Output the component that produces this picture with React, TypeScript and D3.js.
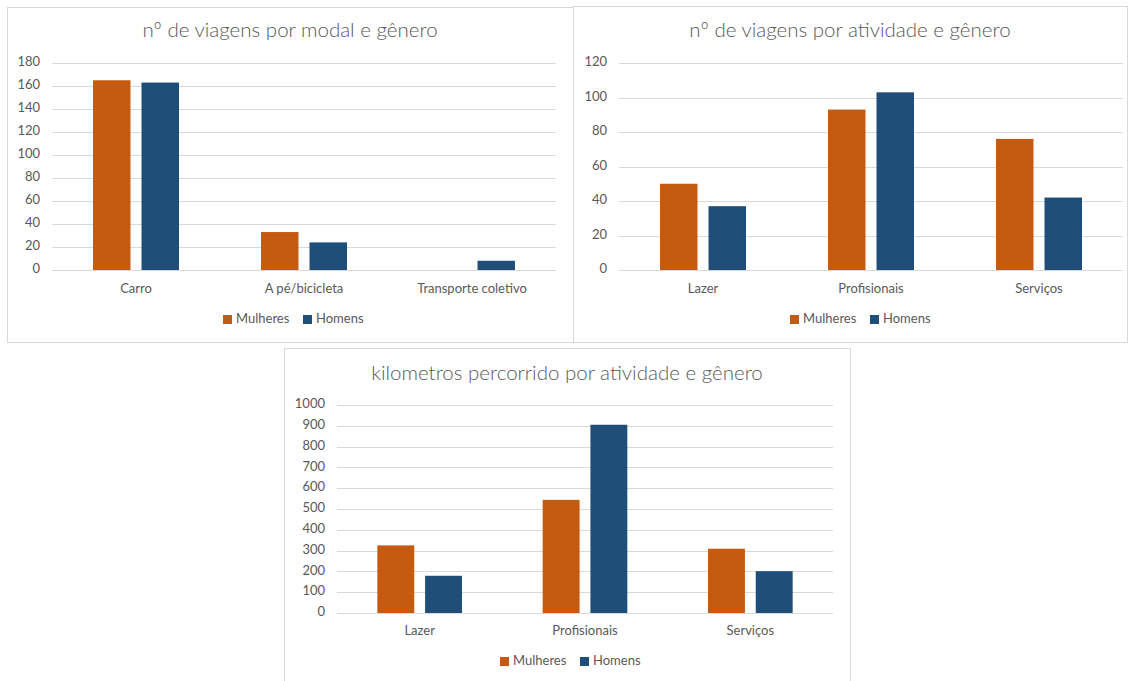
import React from "react";
import * as d3 from "d3";

const series = ["Mulheres", "Homens"];
const colors = ["#C55A11", "#1F4E79"];

// chart 1: viagens por modal
const modalCategories = ["Carro", "A pé/bicicleta", "Transporte coletivo"];
const modalMulheres = [165, 33, 0];
const modalHomens = [163, 24, 8];
const modalTicks = [0, 20, 40, 60, 80, 100, 120, 140, 160, 180];

// chart 2: viagens por atividade
const atividadeCategories = ["Lazer", "Profisionais", "Serviços"];
const atividadeMulheres = [50, 93, 76];
const atividadeHomens = [37, 103, 42];
const atividadeTicks = [0, 20, 40, 60, 80, 100, 120];

// chart 3: km por atividade
const kmCategories = ["Lazer", "Profisionais", "Serviços"];
const kmMulheres = [325, 544, 309];
const kmHomens = [179, 905, 201];
const kmTicks = [0, 100, 200, 300, 400, 500, 600, 700, 800, 900, 1000];

const FONT = "Lato, 'Open Sans', sans-serif";
const GRAY = "#595959";
const GRID = "#d9d9d9";

interface Box { x: number; y: number; w: number; h: number }

interface BarChartProps {
  title: string;
  categories: string[];
  values: number[][];
  ticks: number[];
  panel: Box;
  plot: { left: number; right: number; top: number; bottom: number };
  titleY: number;
  catY: number;
  legendY: number;
  legendX: number;
}

const BarChart: React.FC<BarChartProps> = ({
  title, categories, values, ticks, panel, plot, titleY, catY, legendY, legendX,
}) => {
  const x = d3.scaleBand<string>().domain(categories).range([plot.left, plot.right]).padding(0);
  const cw = x.bandwidth();
  const inner = d3
    .scaleBand<string>()
    .domain(series)
    .range([cw * 0.244, cw * 0.756])
    .paddingInner(0.227);
  const y = d3
    .scaleLinear()
    .domain([0, ticks[ticks.length - 1]])
    .range([plot.bottom, plot.top]);

  return (
    <g>
      <rect x={panel.x + 0.5} y={panel.y + 0.5} width={panel.w} height={panel.h} fill="#fff" stroke={GRID} strokeWidth={1} />
      <text x={panel.x + panel.w / 2} y={titleY} textAnchor="middle" dominantBaseline="middle"
        fontSize={20.5} fontWeight={300} fill={GRAY} fontFamily={FONT}>{title}</text>
      {ticks.map((t) => (
        <g key={t}>
          <line x1={plot.left} x2={plot.right} y1={Math.round(y(t)) + 0.5} y2={Math.round(y(t)) + 0.5} stroke={GRID} />
          <text x={plot.left - 12} y={y(t)} textAnchor="end" dominantBaseline="middle" fontSize={13} fill={GRAY} fontFamily={FONT}>{t}</text>
        </g>
      ))}
      {categories.map((c, i) => (
        <g key={c}>
          {series.map((s, j) => {
            const v = values[j][i];
            if (!v) return null;
            return (
              <rect key={s} x={(x(c) ?? 0) + (inner(s) ?? 0)} y={y(v)} width={inner.bandwidth()}
                height={y(0) - y(v)} fill={colors[j]} />
            );
          })}
          <text x={(x(c) ?? 0) + cw / 2} y={catY} textAnchor="middle" dominantBaseline="middle"
            fontSize={13} fill={GRAY} fontFamily={FONT}>{c}</text>
        </g>
      ))}
      <g transform={`translate(${legendX},${legendY})`}>
        <rect x={0} y={-5} width={9} height={9} fill={colors[0]} />
        <text x={13} y={0} dominantBaseline="middle" fontSize={13} fill={GRAY} fontFamily={FONT}>{series[0]}</text>
        <rect x={80} y={-5} width={9} height={9} fill={colors[1]} />
        <text x={93} y={0} dominantBaseline="middle" fontSize={13} fill={GRAY} fontFamily={FONT}>{series[1]}</text>
      </g>
    </g>
  );
};

export default function App() {
  return (
    <svg width={1128} height={681} style={{ position: "absolute", left: 0, top: 0, background: "#fff" }}>
      <BarChart
        title="nº de viagens por modal e gênero"
        categories={modalCategories}
        values={[modalMulheres, modalHomens]}
        ticks={modalTicks}
        panel={{ x: 7, y: 7, w: 566, h: 335 }}
        plot={{ left: 52, right: 556, top: 63, bottom: 270 }}
        titleY={32}
        catY={290}
        legendY={320}
        legendX={223}
      />
      <BarChart
        title="nº de viagens por atividade e gênero"
        categories={atividadeCategories}
        values={[atividadeMulheres, atividadeHomens]}
        ticks={atividadeTicks}
        panel={{ x: 573, y: 6, w: 554, h: 336 }}
        plot={{ left: 619, right: 1123, top: 63, bottom: 270 }}
        titleY={32}
        catY={290}
        legendY={320}
        legendX={790}
      />
      <BarChart
        title="kilometros percorrido por atividade e gênero"
        categories={kmCategories}
        values={[kmMulheres, kmHomens]}
        ticks={kmTicks}
        panel={{ x: 284, y: 348, w: 566, h: 340 }}
        plot={{ left: 337, right: 833, top: 405, bottom: 613 }}
        titleY={375}
        catY={632}
        legendY={662}
        legendX={500}
      />
    </svg>
  );
}
